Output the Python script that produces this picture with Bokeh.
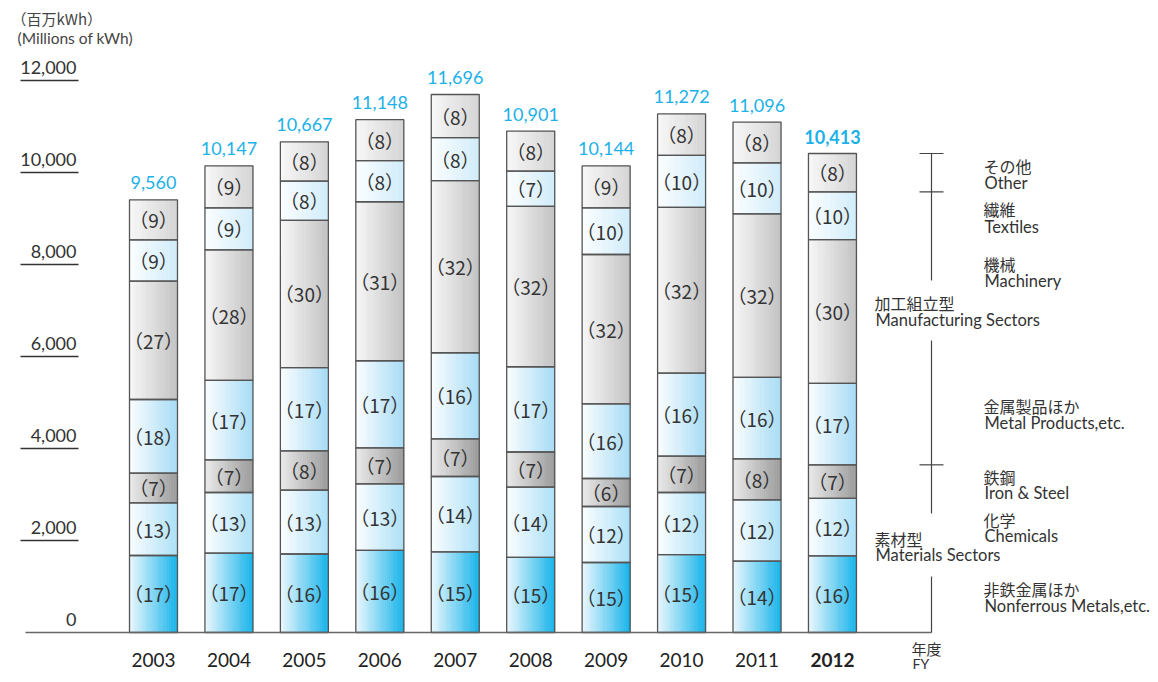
from bokeh.plotting import figure
from bokeh.models import ColumnDataSource, Range1d
from bokeh.embed import file_html
from bokeh.resources import INLINE
from bokeh.core.properties import value

# ---------------- data ----------------
years = [2003, 2004, 2005, 2006, 2007, 2008, 2009, 2010, 2011, 2012]
year_labels = ["2003", "2004", "2005", "2006", "2007", "2008", "2009", "2010", "2011", "2012"]
total_labels = ["9,560", "10,147", "10,667", "11,148", "11,696", "10,901", "10,144", "11,272", "11,096", "10,413"]

# million kWh per sector (bottom to top)
nonferrous = [1674, 1725, 1707, 1784, 1754, 1635, 1522, 1691, 1553, 1666]
chemicals  = [1146, 1319, 1387, 1449, 1637, 1526, 1217, 1353, 1332, 1250]
iron_steel = [643, 710, 853, 780, 819, 763, 609, 789, 888, 729]
metal      = [1602, 1725, 1813, 1895, 1871, 1853, 1623, 1804, 1775, 1770]
machinery  = [2572, 2841, 3200, 3456, 3743, 3488, 3246, 3607, 3551, 3124]
textiles   = [900, 913, 853, 892, 936, 763, 1014, 1127, 1110, 1041]
other      = [870, 913, 853, 892, 936, 872, 913, 902, 888, 833]

# share (%) labels
pct_nonferrous = [17, 17, 16, 16, 15, 15, 15, 15, 14, 16]
pct_chemicals  = [13, 13, 13, 13, 14, 14, 12, 12, 12, 12]
pct_iron_steel = [7, 7, 8, 7, 7, 7, 6, 7, 8, 7]
pct_metal      = [18, 17, 17, 17, 16, 17, 16, 16, 16, 17]
pct_machinery  = [27, 28, 30, 31, 32, 32, 32, 32, 32, 30]
pct_textiles   = [9, 9, 8, 8, 8, 7, 10, 10, 10, 10]
pct_other      = [9, 9, 8, 8, 8, 8, 9, 8, 8, 8]

y_ticks = [0, 2000, 4000, 6000, 8000, 10000, 12000]
y_tick_labels = ["0", "2,000", "4,000", "6,000", "8,000", "10,000", "12,000"]

sector_jp = ["非鉄金属ほか", "化学", "鉄鋼", "金属製品ほか", "機械", "繊維", "その他"]
sector_en = ["Nonferrous Metals,etc.", "Chemicals", "Iron & Steel", "Metal Products,etc.", "Machinery", "Textiles", "Other"]

series = [nonferrous, chemicals, iron_steel, metal, machinery, textiles, other]
pcts = [pct_nonferrous, pct_chemicals, pct_iron_steel, pct_metal, pct_machinery, pct_textiles, pct_other]

# gradient (left colour, right colour) per sector
grad = [("#eef8fd", "#15b3ea"),
        ("#fcfeff", "#ace0f7"),
        ("#ebebeb", "#9a9a9a"),
        ("#fcfeff", "#a6dbf5"),
        ("#f8f8f8", "#c2c2c2"),
        ("#fcfeff", "#d0ecfa"),
        ("#f8f8f8", "#d4d4d4")]

# ---------------- layout ----------------
W, H = 1150, 674
X0_PX, STEP_PX = 153, 75.44      # px of first bar centre, px per year
Y0_PX, PX_PER_UNIT = 632, 0.046  # px of zero line, px per million kWh


def ix(px):
    return years[0] + (px - X0_PX) / STEP_PX


def iy(py):
    return (Y0_PX - py) / PX_PER_UNIT


def dv(npx):
    return npx / PX_PER_UNIT


BW = 48 / STEP_PX

p = figure(width=W, height=H,
           x_range=Range1d(ix(0), ix(W)),
           y_range=Range1d(iy(H), iy(0)),
           x_axis_type=None, y_axis_type=None,
           output_backend="svg", toolbar_location=None,
           min_border=0, outline_line_color=None)
p.background_fill_color = "white"
p.border_fill_color = "white"


def hex2rgb(h):
    h = h.lstrip("#")
    return tuple(int(h[i:i + 2], 16) for i in (0, 2, 4))


def mix(c1, c2, t):
    a, b = hex2rgb(c1), hex2rgb(c2)
    return "#%02x%02x%02x" % tuple(int(round(a[i] + (b[i] - a[i]) * t)) for i in range(3))


NS = 22
strips = dict(left=[], right=[], bottom=[], top=[], color=[])
outl = dict(left=[], right=[], bottom=[], top=[])
seg_lab = dict(x=[], y=[], text=[])
tops = []
for i, yr in enumerate(years):
    b = 0
    for k in range(len(series)):
        t = b + series[k][i]
        l = yr - BW / 2
        for j in range(NS):
            strips["left"].append(l + BW * j / NS)
            strips["right"].append(l + BW * (j + 1) / NS)
            strips["bottom"].append(b)
            strips["top"].append(t)
            strips["color"].append(mix(grad[k][0], grad[k][1], (j + 0.5) / NS))
        outl["left"].append(l)
        outl["right"].append(l + BW)
        outl["bottom"].append(b)
        outl["top"].append(t)
        seg_lab["x"].append(yr)
        seg_lab["y"].append((b + t) / 2)
        seg_lab["text"].append("（%d）" % pcts[k][i])
        b = t
    tops.append(b)

p.quad(source=ColumnDataSource(strips), left="left", right="right", bottom="bottom", top="top",
       fill_color="color", line_color="color", line_width=0.6)
p.quad(source=ColumnDataSource(outl), left="left", right="right", bottom="bottom", top="top",
       fill_alpha=0, line_color="#555555", line_width=1.3)

JP = value("Noto Sans CJK JP")
EN = value("Lato")

p.text(source=ColumnDataSource(seg_lab), x="x", y="y", text="text",
       text_font=JP, text_font_size="19px", text_color="#333333",
       text_align="center", text_baseline="middle")

# baseline
p.segment(x0=[ix(25)], x1=[ix(931)], y0=[0], y1=[0], line_color="#666666", line_width=1.5)

# y tick underlines and labels
p.segment(x0=[ix(20)] * (len(y_ticks) - 1), x1=[ix(78)] * (len(y_ticks) - 1),
          y0=y_ticks[1:], y1=y_ticks[1:], line_color="#333333", line_width=1.3)
p.text(x=[ix(76)] * len(y_ticks), y=[v + dv(13) for v in y_ticks], text=y_tick_labels,
       text_font=EN, text_font_size="18px", text_color="#333333",
       text_align="right", text_baseline="middle")

# unit label
p.text(x=[ix(11)], y=[iy(18)], text=["（百万kWh）"], text_font=JP, text_font_size="15px",
       text_color="#444444", text_align="left", text_baseline="middle")
p.text(x=[ix(17)], y=[iy(37)], text=["(Millions of kWh)"], text_font=EN, text_font_size="15.5px",
       text_color="#444444", text_align="left", text_baseline="middle")

# totals
n = len(years)
p.text(x=years[:-1], y=[t + dv(17) for t in tops[:-1]], text=total_labels[:-1],
       text_font=EN, text_font_size="18px", text_color="#1cb1e8",
       text_align="center", text_baseline="middle")
p.text(x=years[-1:], y=[tops[-1] + dv(17)], text=total_labels[-1:],
       text_font=EN, text_font_size="18px", text_font_style="bold", text_color="#1cb1e8",
       text_align="center", text_baseline="middle")

# year labels
p.text(x=years[:-1], y=[iy(659)] * (n - 1), text=year_labels[:-1],
       text_font=EN, text_font_size="19px", text_color="#222222",
       text_align="center", text_baseline="middle")
p.text(x=years[-1:], y=[iy(659)], text=year_labels[-1:],
       text_font=EN, text_font_size="19px", text_font_style="bold", text_color="#222222",
       text_align="center", text_baseline="middle")
p.text(x=[ix(911)], y=[iy(648)], text=["年度"], text_font=JP, text_font_size="15px",
       text_color="#333333", text_align="left", text_baseline="middle")
p.text(x=[ix(912)], y=[iy(663)], text=["FY"], text_font=EN, text_font_size="14px",
       text_color="#333333", text_align="left", text_baseline="middle")

# right-hand bracket (based on the last year's stack)
last = len(years) - 1
top_last = tops[last]
materials_top = nonferrous[last] + chemicals[last] + iron_steel[last]
bx = ix(931)
p.segment(x0=[bx] * 3, x1=[bx] * 3,
          y0=[top_last, iy(340), iy(576)], y1=[iy(280), iy(513), 0],
          line_color="#444444", line_width=1.2)
p.segment(x0=[ix(919)] * 3, x1=[ix(943)] * 3,
          y0=[top_last, top_last - other[last], materials_top],
          y1=[top_last, top_last - other[last], materials_top],
          line_color="#444444", line_width=1.2)

# sector legend labels (px centres of JP / EN lines)
jp_y = [588, 519, 476, 405, 263, 208, 165]
en_y = [605, 535, 492, 422, 280, 226, 182]
p.text(x=[ix(983)] * 7, y=[iy(v) for v in jp_y], text=sector_jp, text_font=JP,
       text_font_size="16px", text_color="#333333", text_align="left", text_baseline="middle")
p.text(x=[ix(984)] * 7, y=[iy(v) for v in en_y], text=sector_en, text_font=EN,
       text_font_size="16.5px", text_color="#333333", text_align="left", text_baseline="middle")

group_jp = ["加工組立型", "素材型"]
group_en = ["Manufacturing Sectors", "Materials Sectors"]
p.text(x=[ix(874)] * 2, y=[iy(302), iy(538)], text=group_jp, text_font=JP,
       text_font_size="16px", text_color="#333333", text_align="left", text_baseline="middle")
p.text(x=[ix(875)] * 2, y=[iy(319), iy(554)], text=group_en, text_font=EN,
       text_font_size="16.5px", text_color="#333333", text_align="left", text_baseline="middle")

open("out.html", "w").write(file_html(p, INLINE))
